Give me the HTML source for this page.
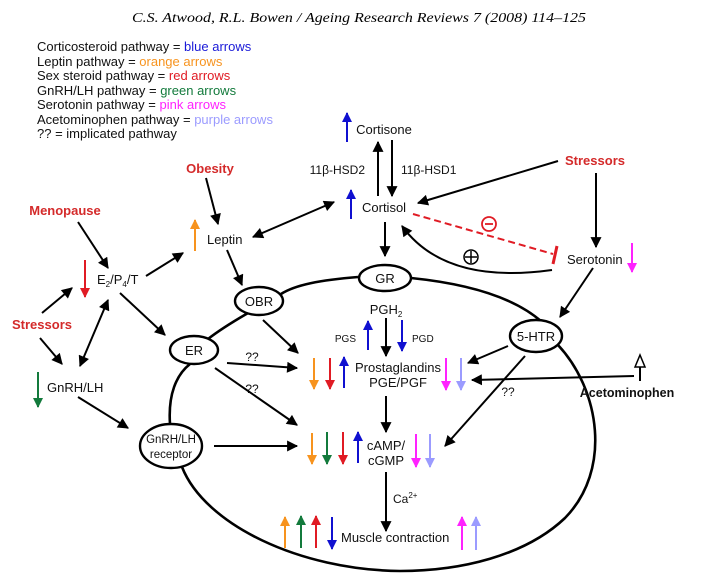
<!DOCTYPE html>
<html><head><meta charset="utf-8"><style>
html,body{margin:0;padding:0;background:#fff;}
svg{display:block;}
text{font-family:"Liberation Sans",Arial,sans-serif;}
</style></head><body>
<svg width="704" height="579" viewBox="0 0 704 579" xmlns="http://www.w3.org/2000/svg">
<defs>
<marker id="k" viewBox="0 0 10 10" refX="9" refY="5" markerWidth="6" markerHeight="5.5" orient="auto-start-reverse" markerUnits="strokeWidth"><path d="M0,0 L10,5 L0,10 z" fill="#000"/></marker>
<marker id="bl" viewBox="0 0 10 10" refX="9" refY="5" markerWidth="5.5" markerHeight="5" orient="auto" markerUnits="strokeWidth"><path d="M0,0 L10,5 L0,10 z" fill="#1010d0"/></marker>
<marker id="or" viewBox="0 0 10 10" refX="9" refY="5" markerWidth="5.5" markerHeight="5" orient="auto" markerUnits="strokeWidth"><path d="M0,0 L10,5 L0,10 z" fill="#f7931e"/></marker>
<marker id="rd" viewBox="0 0 10 10" refX="9" refY="5" markerWidth="5.5" markerHeight="5" orient="auto" markerUnits="strokeWidth"><path d="M0,0 L10,5 L0,10 z" fill="#e01b24"/></marker>
<marker id="gr" viewBox="0 0 10 10" refX="9" refY="5" markerWidth="5.5" markerHeight="5" orient="auto" markerUnits="strokeWidth"><path d="M0,0 L10,5 L0,10 z" fill="#137a3c"/></marker>
<marker id="pk" viewBox="0 0 10 10" refX="9" refY="5" markerWidth="5.5" markerHeight="5" orient="auto" markerUnits="strokeWidth"><path d="M0,0 L10,5 L0,10 z" fill="#ff22ff"/></marker>
<marker id="pu" viewBox="0 0 10 10" refX="9" refY="5" markerWidth="5.5" markerHeight="5" orient="auto" markerUnits="strokeWidth"><path d="M0,0 L10,5 L0,10 z" fill="#9b9bff"/></marker>
</defs>

<text x="132" y="22" font-style="italic" font-size="14" textLength="454" lengthAdjust="spacingAndGlyphs" style="font-family:'Liberation Serif',serif">C.S. Atwood, R.L. Bowen / Ageing Research Reviews 7 (2008) 114–125</text>

<g font-size="13" fill="#111">
<text x="37" y="51">Corticosteroid pathway = <tspan fill="#1a1ad8">blue arrows</tspan></text>
<text x="37" y="66">Leptin pathway = <tspan fill="#f7931e">orange arrows</tspan></text>
<text x="37" y="80">Sex steroid pathway = <tspan fill="#e01b24">red arrows</tspan></text>
<text x="37" y="95">GnRH/LH pathway = <tspan fill="#137a3c">green arrows</tspan></text>
<text x="37" y="109">Serotonin pathway = <tspan fill="#ff22ff">pink arrows</tspan></text>
<text x="37" y="124">Acetominophen pathway = <tspan fill="#9b9bff">purple arrows</tspan></text>
<text x="37" y="138">?? = implicated pathway</text>
</g>

<g fill="none" stroke="#000" stroke-width="2.6">
<path d="M358,277 C320,280 295,285 281,294"/>
<path d="M411,278 C470,284 515,298 542,322"/>
<path d="M558,345 C600,390 612,470 565,518 C525,556 460,571 400,571 C300,570 205,525 182,467"/>
<path d="M170,424 C168,395 176,375 190,364"/>
<path d="M208,339 C222,328 236,320 248,313"/>
</g>

<g fill="#fff" stroke="#000" stroke-width="2.4">
<ellipse cx="385" cy="278" rx="26" ry="13"/>
<ellipse cx="259" cy="301" rx="24" ry="14"/>
<ellipse cx="194" cy="350" rx="24" ry="14"/>
<ellipse cx="171" cy="446" rx="31" ry="22"/>
<ellipse cx="536" cy="336" rx="26" ry="16"/>
</g>
<g font-size="13" text-anchor="middle" fill="#111">
<text x="385" y="283">GR</text>
<text x="259" y="306">OBR</text>
<text x="194" y="355">ER</text>
<text x="171" y="443" font-size="11.5">GnRH/LH</text>
<text x="171" y="458" font-size="11.5">receptor</text>
<text x="536" y="341">5-HTR</text>
</g>

<g font-size="13" fill="#111">
<text x="384" y="134" text-anchor="middle">Cortisone</text>
<text x="365" y="174" text-anchor="end" font-size="12">11β-HSD2</text>
<text x="401" y="174" font-size="12">11β-HSD1</text>
<text x="362" y="212">Cortisol</text>
<text x="567" y="264">Serotonin</text>
<text x="207" y="244">Leptin</text>
<text x="97" y="284">E<tspan font-size="8" dy="3">2</tspan><tspan dy="-3">/P</tspan><tspan font-size="8" dy="3">4</tspan><tspan dy="-3">/T</tspan></text>
<text x="47" y="392">GnRH/LH</text>
<text x="386" y="314" text-anchor="middle">PGH<tspan font-size="8" dy="3">2</tspan></text>
<text x="356" y="342" text-anchor="end" font-size="10">PGS</text>
<text x="412" y="342" font-size="10">PGD</text>
<text x="398" y="372" text-anchor="middle">Prostaglandins</text>
<text x="398" y="387" text-anchor="middle">PGE/PGF</text>
<text x="386" y="450" text-anchor="middle">cAMP/</text>
<text x="386" y="465" text-anchor="middle">cGMP</text>
<text x="393" y="503" font-size="12">Ca<tspan font-size="8" dy="-5">2+</tspan></text>
<text x="341" y="542">Muscle contraction</text>
<text x="627" y="397" text-anchor="middle" font-weight="bold" font-size="12.5">Acetominophen</text>
<text x="252" y="361" text-anchor="middle" font-size="12">??</text>
<text x="252" y="393" text-anchor="middle" font-size="12">??</text>
<text x="508" y="396" text-anchor="middle" font-size="12">??</text>
</g>
<g font-size="13" font-weight="bold" fill="#d42a2a" text-anchor="middle">
<text x="210" y="173">Obesity</text>
<text x="65" y="215">Menopause</text>
<text x="42" y="329">Stressors</text>
<text x="595" y="165">Stressors</text>
</g>

<g stroke="#000" stroke-width="2" fill="none" marker-end="url(#k)">
<line x1="378" y1="196" x2="378" y2="142"/>
<line x1="392" y1="140" x2="392" y2="196"/>
<line x1="558" y1="161" x2="418" y2="203"/>
<line x1="596" y1="173" x2="596" y2="247"/>
<line x1="385" y1="222" x2="385" y2="256"/>
<line x1="593" y1="268" x2="560" y2="317"/>
<line x1="253" y1="237" x2="334" y2="202" marker-start="url(#k)"/>
<line x1="206" y1="178" x2="218" y2="224"/>
<line x1="227" y1="250" x2="242" y2="285"/>
<line x1="78" y1="222" x2="108" y2="268"/>
<line x1="146" y1="276" x2="183" y2="253"/>
<line x1="120" y1="293" x2="165" y2="335"/>
<line x1="42" y1="313" x2="72" y2="288"/>
<line x1="40" y1="338" x2="62" y2="364"/>
<line x1="108" y1="300" x2="80" y2="366" marker-start="url(#k)"/>
<line x1="78" y1="397" x2="128" y2="428"/>
<line x1="214" y1="446" x2="297" y2="446"/>
<line x1="227" y1="363" x2="297" y2="368"/>
<line x1="215" y1="368" x2="297" y2="425"/>
<line x1="263" y1="320" x2="298" y2="353"/>
<line x1="386" y1="318" x2="386" y2="356"/>
<line x1="386" y1="396" x2="386" y2="432"/>
<line x1="386" y1="472" x2="386" y2="531"/>
<line x1="508" y1="346" x2="468" y2="363"/>
<line x1="525" y1="356" x2="445" y2="446"/>
<line x1="634" y1="376" x2="472" y2="380"/>
<path d="M552,270 Q445,285 402,226"/>
</g>
<line x1="640" y1="381" x2="640" y2="366" stroke="#000" stroke-width="2"/>
<path d="M635,367 L640,355 L645,367 z" fill="#fff" stroke="#000" stroke-width="1.5"/>

<line x1="413" y1="214" x2="553" y2="254" stroke="#e01b24" stroke-width="2" stroke-dasharray="7,4"/>
<line x1="557" y1="246" x2="553" y2="264" stroke="#e01b24" stroke-width="3"/>
<circle cx="489" cy="224" r="7" fill="none" stroke="#e01b24" stroke-width="1.8"/>
<line x1="485" y1="224" x2="493" y2="224" stroke="#e01b24" stroke-width="1.8"/>
<circle cx="471" cy="257" r="7" fill="none" stroke="#000" stroke-width="1.5"/>
<line x1="465" y1="257" x2="477" y2="257" stroke="#000" stroke-width="1.5"/>
<line x1="471" y1="251" x2="471" y2="263" stroke="#000" stroke-width="1.5"/>

<g stroke-width="2" fill="none">
<line x1="347" y1="142" x2="347" y2="113" stroke="#1010d0" marker-end="url(#bl)"/>
<line x1="351" y1="219" x2="351" y2="190" stroke="#1010d0" marker-end="url(#bl)"/>
<line x1="632" y1="243" x2="632" y2="272" stroke="#ff22ff" marker-end="url(#pk)"/>
<line x1="195" y1="251" x2="195" y2="220" stroke="#f7931e" marker-end="url(#or)"/>
<line x1="85" y1="260" x2="85" y2="297" stroke="#e01b24" marker-end="url(#rd)"/>
<line x1="38" y1="372" x2="38" y2="407" stroke="#137a3c" marker-end="url(#gr)"/>
<line x1="368" y1="350" x2="368" y2="321" stroke="#1010d0" marker-end="url(#bl)"/>
<line x1="402" y1="320" x2="402" y2="351" stroke="#1010d0" marker-end="url(#bl)"/>
<line x1="314" y1="358" x2="314" y2="389" stroke="#f7931e" marker-end="url(#or)"/>
<line x1="330" y1="358" x2="330" y2="389" stroke="#e01b24" marker-end="url(#rd)"/>
<line x1="344" y1="388" x2="344" y2="357" stroke="#1010d0" marker-end="url(#bl)"/>
<line x1="446" y1="358" x2="446" y2="390" stroke="#ff22ff" marker-end="url(#pk)"/>
<line x1="461" y1="358" x2="461" y2="390" stroke="#9b9bff" marker-end="url(#pu)"/>
<line x1="312" y1="433" x2="312" y2="464" stroke="#f7931e" marker-end="url(#or)"/>
<line x1="327" y1="432" x2="327" y2="464" stroke="#137a3c" marker-end="url(#gr)"/>
<line x1="343" y1="432" x2="343" y2="464" stroke="#e01b24" marker-end="url(#rd)"/>
<line x1="358" y1="463" x2="358" y2="432" stroke="#1010d0" marker-end="url(#bl)"/>
<line x1="416" y1="434" x2="416" y2="467" stroke="#ff22ff" marker-end="url(#pk)"/>
<line x1="430" y1="434" x2="430" y2="467" stroke="#9b9bff" marker-end="url(#pu)"/>
<line x1="285" y1="548" x2="285" y2="517" stroke="#f7931e" marker-end="url(#or)"/>
<line x1="301" y1="548" x2="301" y2="516" stroke="#137a3c" marker-end="url(#gr)"/>
<line x1="316" y1="548" x2="316" y2="516" stroke="#e01b24" marker-end="url(#rd)"/>
<line x1="332" y1="517" x2="332" y2="549" stroke="#1010d0" marker-end="url(#bl)"/>
<line x1="462" y1="550" x2="462" y2="517" stroke="#ff22ff" marker-end="url(#pk)"/>
<line x1="476" y1="550" x2="476" y2="517" stroke="#9b9bff" marker-end="url(#pu)"/>
</g>
</svg>
</body></html>
